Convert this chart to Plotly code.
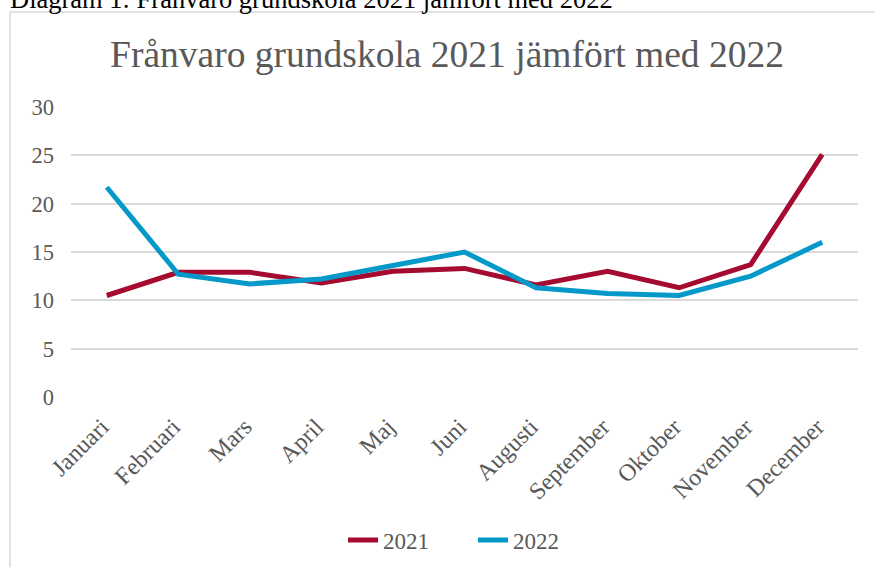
import plotly.graph_objects as go

months = ["Januari", "Februari", "Mars", "April", "Maj", "Juni", "Augusti",
          "September", "Oktober", "November", "December"]
values_2021 = [10.5, 12.9, 12.9, 11.8, 13.0, 13.3, 11.6, 13.0, 11.3, 13.7, 25.1]
values_2022 = [21.7, 12.7, 11.7, 12.2, 13.6, 15.0, 11.3, 10.7, 10.5, 12.5, 16.0]
y_ticks = [0, 5, 10, 15, 20, 25, 30]

W, H = 875, 567
L, R, T, B = 71, 17, 107, 170
pw, ph = W - L - R, H - T - B

def px(x):
    return (x - L) / pw

def py(y):
    return (H - B - y) / ph

serif = "Liberation Serif, Times New Roman, serif"

fig = go.Figure()
fig.add_trace(go.Scatter(x=months, y=values_2021, name="2021", mode="lines",
                         line=dict(color="#A50B2F", width=5)))
fig.add_trace(go.Scatter(x=months, y=values_2022, name="2022", mode="lines",
                         line=dict(color="#0499C9", width=5)))

fig.update_layout(
    width=W, height=H,
    margin=dict(l=L, r=R, t=T, b=B, autoexpand=False),
    paper_bgcolor="white", plot_bgcolor="white",
    font=dict(family=serif, color="#595959", size=22),
    title=dict(text="Frånvaro grundskola 2021 jämfört med 2022",
               x=px(447), xanchor="center", y=1 - 54 / H, yanchor="middle",
               xref="paper",
               font=dict(family=serif, size=37.5, color="#595959")),
    xaxis=dict(tickangle=-45, showgrid=False, showline=False, ticks="",
               tickfont=dict(family=serif, size=24, color="#595959"),
               ticklabelstandoff=10, ticklabelshift=-5,
               range=[-0.5, 10.5]),
    yaxis=dict(range=[0, 30], tickvals=y_ticks, showgrid=True,
               gridcolor="#d9d9d9", gridwidth=1.5, zeroline=False,
               showline=False, ticks="", ticklabelstandoff=16,
               tickfont=dict(family=serif, size=22.5, color="#595959")),
    legend=dict(orientation="h", x=px(473), xanchor="center", y=py(540), yanchor="middle",
                font=dict(family=serif, size=23, color="#595959"),
                entrywidth=85, traceorder="normal"),
    showlegend=True,
)

fig.add_shape(type="rect", xref="paper", yref="paper",
              x0=px(10), x1=px(W + 5), y0=py(H + 5), y1=py(12),
              line=dict(color="#d9d9d9", width=1.5), fillcolor="rgba(0,0,0,0)",
              layer="below")

fig.add_annotation(text="Diagram 1: Frånvaro grundskola 2021 jämfört med 2022",
                   xref="paper", yref="paper", x=px(8), y=py(-1), xanchor="left",
                   yanchor="middle", showarrow=False,
                   font=dict(family=serif, size=26.5, color="black"))

fig.write_html("out.html", config={"displayModeBar": False},
               post_script="document.body.style.margin='0';document.body.style.padding='0';")
